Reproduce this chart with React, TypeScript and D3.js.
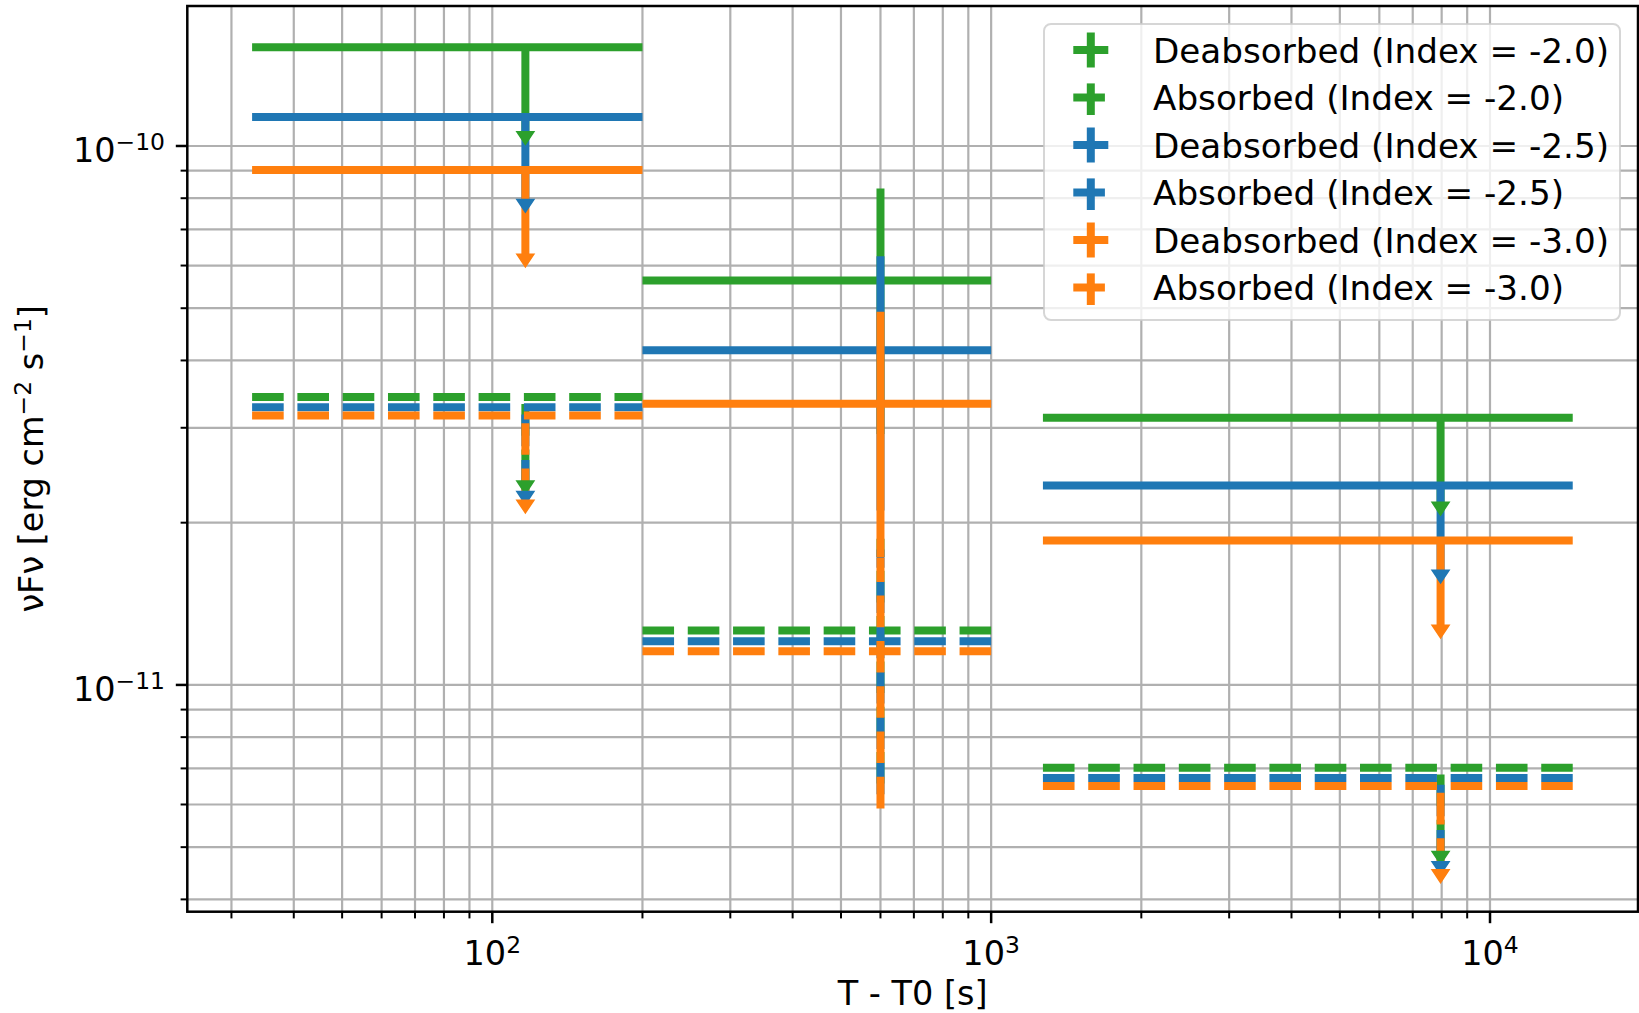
import React from 'react';
import * as d3 from 'd3';

// ---- data ----
const tMid = [116.5, 600, 7960];          // bin centres, T - T0 [s]
const tHalf = [83.5, 400, 6690];          // half bin width [s]
const isUpperLimit = [true, false, true]; // per bin

const deabs20 = [1.525e-10, 5.63e-11, 3.133e-11];
const deabs20Err = [4.62e-11, 2.71e-11, 9.51e-12];
const abs20 = [3.42e-11, 1.262e-11, 7.02e-12];
const abs20Err = [1.03e-11, 6.06e-12, 2.11e-12];

const deabs25 = [1.132e-10, 4.176e-11, 2.344e-11];
const deabs25Err = [3.36e-11, 2.07e-11, 7.11e-12];
const abs25 = [3.275e-11, 1.205e-11, 6.72e-12];
const abs25Err = [9.9e-12, 5.78e-12, 2.02e-12];

const deabs30 = [9.02e-11, 3.324e-11, 1.853e-11];
const deabs30Err = [2.72e-11, 1.6e-11, 5.62e-12];
const abs30 = [3.162e-11, 1.155e-11, 6.49e-12];
const abs30Err = [9.6e-12, 5.65e-12, 1.95e-12];

const seriesLabels = [
  'Deabsorbed (Index = -2.0)',
  'Absorbed (Index = -2.0)',
  'Deabsorbed (Index = -2.5)',
  'Absorbed (Index = -2.5)',
  'Deabsorbed (Index = -3.0)',
  'Absorbed (Index = -3.0)',
];
const seriesColors = ['#2ca02c', '#2ca02c', '#1f77b4', '#1f77b4', '#ff7f0e', '#ff7f0e'];
const seriesDashed = [false, true, false, true, false, true];
const seriesValues = [deabs20, abs20, deabs25, abs25, deabs30, abs30];
const seriesErrors = [deabs20Err, abs20Err, deabs25Err, abs25Err, deabs30Err, abs30Err];

const xLim = [24.47, 19800];
const yLim = [3.795e-12, 1.8186e-10];

const xLabel = 'T - T0 [s]';

// ---- layout ----
const W = 1639;
const H = 1013;
const L = 187.3;
const R = 1638;
const T = 6;
const B = 911.7;
const FS = 33.5;
const SUP = FS * 0.7;
const FONT = "'DejaVu Sans', sans-serif";
const LW = 8;
const DASH = '31.6 13.7';
const GRID = '#b0b0b0';

export default function App() {
  const x = d3.scaleLog().domain(xLim).range([L, R]);
  const y = d3.scaleLog().domain(yLim).range([B, T]);

  const isMajor = (v: number) => Math.abs(Math.log10(v) - Math.round(Math.log10(v))) < 1e-9;
  const xTicks = x.ticks().filter((v) => v >= xLim[0] && v <= xLim[1]);
  const yTicks = y.ticks().filter((v) => v >= yLim[0] && v <= yLim[1]);

  const series = seriesLabels.map((label, k) => ({
    label,
    color: seriesColors[k],
    dashed: seriesDashed[k],
    values: seriesValues[k],
    errors: seriesErrors[k],
  }));

  const caret = 'M -8.5 0 L 8.5 0 L 0 12.8 Z';

  const rowY = (i: number) => 50 + 47.5 * i;
  const hx = 1090.8;

  return (
    <svg
      width={W}
      height={H}
      viewBox={`0 0 ${W} ${H}`}
      style={{ position: 'absolute', left: 0, top: 0, display: 'block' }}
      fontFamily={FONT}
    >
      <rect x={0} y={0} width={W} height={H} fill="#ffffff" />
      <defs>
        <clipPath id="plotArea">
          <rect x={L} y={T} width={R - L} height={B - T} />
        </clipPath>
      </defs>

      {/* grid */}
      <g stroke={GRID} strokeWidth={2.2}>
        {xTicks.map((v, i) => (
          <line key={'gx' + i} x1={x(v)} x2={x(v)} y1={T} y2={B} />
        ))}
        {yTicks.map((v, i) => (
          <line key={'gy' + i} x1={L} x2={R} y1={y(v)} y2={y(v)} />
        ))}
      </g>

      {/* data: error bar lines */}
      <g clipPath="url(#plotArea)" fill="none">
        {series.map((s, k) => (
          <g key={'s' + k} stroke={s.color} strokeWidth={LW} strokeDasharray={s.dashed ? DASH : undefined} strokeLinecap="butt">
            {s.values.map((v, i) => (
              <line key={'h' + i} x1={x(tMid[i] - tHalf[i])} x2={x(tMid[i] + tHalf[i])} y1={y(v)} y2={y(v)} />
            ))}
            {s.values.map((v, i) => (
              <line
                key={'v' + i}
                x1={x(tMid[i])}
                x2={x(tMid[i])}
                y1={y(v - s.errors[i])}
                y2={isUpperLimit[i] ? y(v) : y(v + s.errors[i])}
              />
            ))}
          </g>
        ))}
        {/* upper-limit carets, above all lines */}
        {series.map((s, k) => (
          <g key={'c' + k} fill={s.color} stroke={s.color} strokeWidth={1.5} strokeLinejoin="miter">
            {s.values.map((v, i) =>
              isUpperLimit[i] ? (
                <path key={'c' + i} d={caret} transform={`translate(${x(tMid[i])},${y(v - s.errors[i])})`} />
              ) : null
            )}
          </g>
        ))}
      </g>

      {/* spines */}
      <rect x={L} y={T} width={R - L} height={B - T} fill="none" stroke="#000" strokeWidth={2.5} />

      {/* ticks */}
      <g stroke="#000">
        {xTicks.map((v, i) => (
          <line
            key={'xt' + i}
            x1={x(v)}
            x2={x(v)}
            y1={B}
            y2={B + (isMajor(v) ? 11.5 : 6.7)}
            strokeWidth={isMajor(v) ? 2.5 : 2}
          />
        ))}
        {yTicks.map((v, i) => (
          <line
            key={'yt' + i}
            x1={L}
            x2={L - (isMajor(v) ? 11.5 : 6.7)}
            y1={y(v)}
            y2={y(v)}
            strokeWidth={isMajor(v) ? 2.5 : 2}
          />
        ))}
      </g>

      {/* tick labels */}
      <g fill="#000" fontSize={FS}>
        {xTicks.filter(isMajor).map((v, i) => (
          <text key={'xl' + i} x={x(v)} y={B + 53.3} textAnchor="middle">
            <tspan>10</tspan>
            <tspan dy={-12} fontSize={SUP}>{String(Math.round(Math.log10(v)))}</tspan>
          </text>
        ))}
        {yTicks.filter(isMajor).map((v, i) => (
          <text key={'yl' + i} x={165} y={y(v) + 15.7} textAnchor="end">
            <tspan>10</tspan>
            <tspan dy={-12} fontSize={SUP}>{'\u2212' + String(Math.abs(Math.round(Math.log10(v))))}</tspan>
          </text>
        ))}
      </g>

      {/* axis labels */}
      <text x={(L + R) / 2} y={1004.5} textAnchor="middle" fontSize={FS} fill="#000">
        {xLabel}
      </text>
      <text transform={`translate(43,${(T + B) / 2}) rotate(-90)`} textAnchor="middle" fontSize={FS} fill="#000">
        <tspan>{'\u03bdF\u03bd [erg cm'}</tspan>
        <tspan dy={-12} fontSize={SUP}>{'\u22122'}</tspan>
        <tspan dy={12}>{' s'}</tspan>
        <tspan dy={-12} fontSize={SUP}>{'\u22121'}</tspan>
        <tspan dy={12}>{']'}</tspan>
      </text>

      {/* legend */}
      <g>
        <rect
          x={1044}
          y={24}
          width={576}
          height={296}
          rx={7}
          ry={7}
          fill="#ffffff"
          fillOpacity={0.8}
          stroke="#cccccc"
          strokeOpacity={0.8}
          strokeWidth={2}
        />
        {series.map((s, k) => (
          <g key={'lg' + k}>
            <g stroke={s.color} strokeWidth={LW} strokeDasharray={s.dashed ? DASH : undefined}>
              <line x1={hx - 17.5} x2={hx + 17.5} y1={rowY(k)} y2={rowY(k)} />
              <line x1={hx} x2={hx} y1={rowY(k) + 17.5} y2={rowY(k) - 17.5} />
            </g>
            <text x={1153} y={rowY(k) + 12.5} fontSize={34.2} fill="#000">
              {s.label}
            </text>
          </g>
        ))}
      </g>
    </svg>
  );
}
